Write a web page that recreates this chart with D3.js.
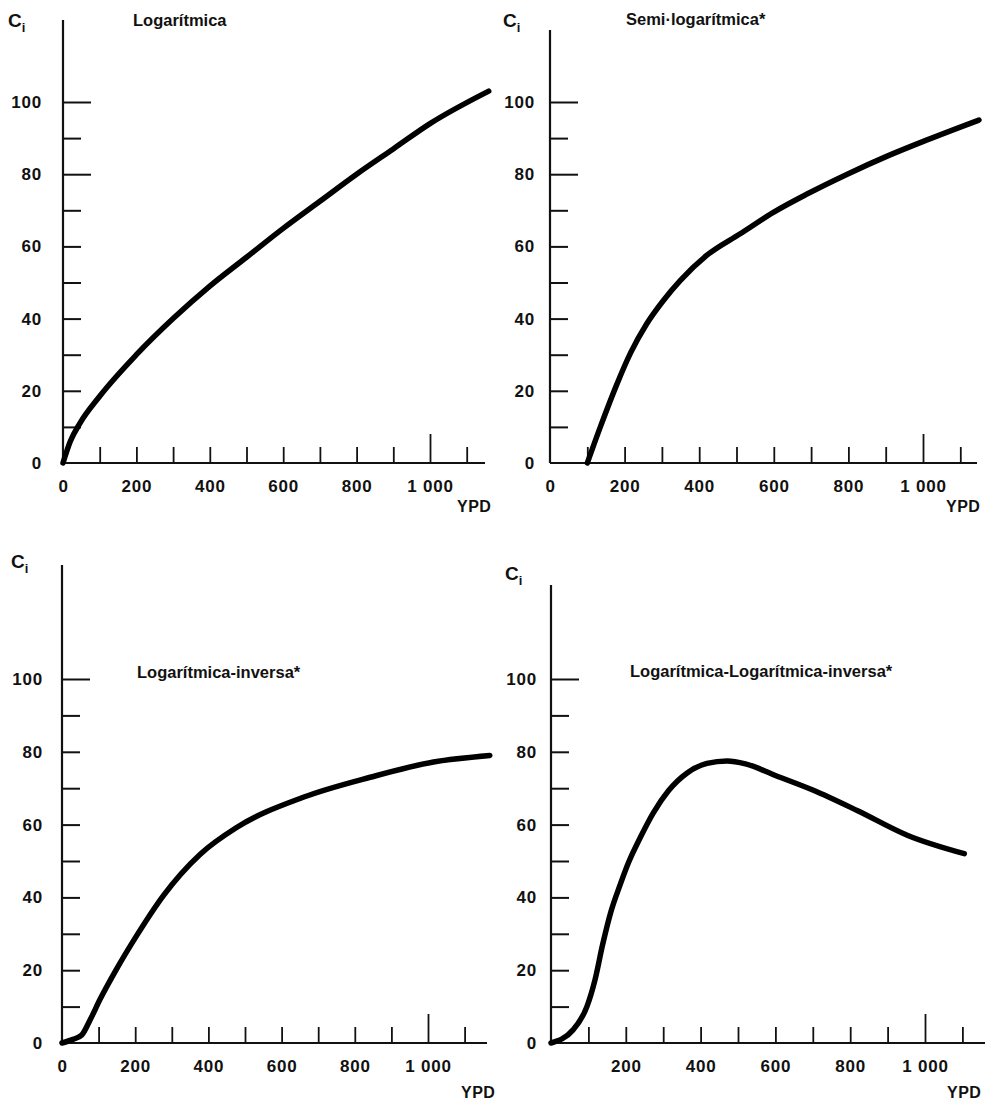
<!DOCTYPE html>
<html>
<head>
<meta charset="utf-8">
<script src="https://cdn.jsdelivr.net/npm/d3@7"></script>
<style>
  body { margin: 0; background: #fff; }
  svg { display: block; font-family: "Liberation Sans", Arial, sans-serif; }
</style>
</head>
<body>
<div id="chart"></div>
<script>
// ===== Data =====
const xTickValues = [100, 200, 300, 400, 500, 600, 700, 800, 900, 1000, 1100];
const xLabelValues = [0, 200, 400, 600, 800, 1000];
const yTickValues = [10, 20, 30, 40, 50, 60, 70, 80, 90, 100];
const yLabelValues = [0, 20, 40, 60, 80, 100];
const xAxisTitle = 'YPD';

const titles = ['Logarítmica', 'Semi·logarítmica*', 'Logarítmica-inversa*', 'Logarítmica-Logarítmica-inversa*'];

const logYpd = [0, 20, 46, 100, 200, 300, 400, 500, 600, 700, 800, 900, 1000, 1160];
const logCi = [0, 6, 11, 18.5, 30, 40, 49, 57, 65, 72.5, 80, 87, 94, 103];

const semiYpd = [100, 135, 180, 216, 259, 304, 349, 420, 510, 600, 689, 797, 904, 1011, 1150];
const semiCi = [0, 10, 22, 30.5, 38.5, 45, 50.5, 57.5, 63.5, 69.5, 74.5, 80, 85, 89.5, 95];

const invYpd = [0, 30, 54, 77, 104, 149, 204, 277, 377, 477, 659, 842, 1015, 1169];
const invCi = [0, 1, 2.2, 6.4, 12, 20.3, 29.5, 40.5, 51.8, 59.2, 67.5, 73, 77.2, 79];

const llYpd = [0, 59, 96, 118, 138, 160, 185, 207, 239, 274, 314, 364, 417, 471, 520, 600, 700, 820, 954, 1105];
const llCi = [0, 3.6, 10, 17.5, 27, 36, 43.5, 49.5, 56.5, 63.3, 69.3, 74.2, 76.8, 77.5, 76.7, 73.5, 69.5, 63.8, 57, 52];

// ===== Panel layout =====
const panels = [
  { title: titles[0], xs: logYpd, ys: logCi, x0: 63, x1000: 430, y0: 463, y100: 102, yTop: 20, xEnd: 485,
    longY: [80, 100], xZero: true, ciX: 8, ciY: 27, titleX: 133, titleY: 26, yLabelRight: 42, ypdX: 457, ypdY: 512 },
  { title: titles[1], xs: semiYpd, ys: semiCi, x0: 550, x1000: 923, y0: 463, y100: 102, yTop: 30, xEnd: 977,
    longY: [80, 100], xZero: true, ciX: 503, ciY: 27, titleX: 626, titleY: 25, yLabelRight: 535, ypdX: 946, ypdY: 512 },
  { title: titles[2], xs: invYpd, ys: invCi, x0: 62, x1000: 428, y0: 1043, y100: 679, yTop: 565, xEnd: 487,
    longY: [100], xZero: true, ciX: 11, ciY: 568, titleX: 137, titleY: 678, yLabelRight: 43, ypdX: 461, ypdY: 1098 },
  { title: titles[3], xs: llYpd, ys: llCi, x0: 551, x1000: 925, y0: 1043, y100: 679, yTop: 585, xEnd: 985,
    longY: [100], xZero: false, ciX: 505, ciY: 580, titleX: 630, titleY: 677, yLabelRight: 537, ypdX: 947, ypdY: 1098 }
];

const svg = d3.select('#chart')
  .append('svg')
  .attr('width', 988)
  .attr('height', 1101);

svg.append('rect').attr('width', 988).attr('height', 1101).attr('fill', '#fff');

const fmt = d => d >= 1000 ? d3.format(',')(d).replace(',', ' ') : String(d);

panels.forEach(p => {
  const x = d3.scaleLinear().domain([0, 1000]).range([p.x0, p.x1000]);
  const y = d3.scaleLinear().domain([0, 100]).range([p.y0, p.y100]);
  const g = svg.append('g');

  // axis lines
  g.append('line')
    .attr('x1', p.x0).attr('x2', p.x0)
    .attr('y1', p.y0).attr('y2', p.yTop)
    .attr('stroke', '#111').attr('stroke-width', 2.2);
  g.append('line')
    .attr('x1', p.x0).attr('x2', p.xEnd)
    .attr('y1', p.y0).attr('y2', p.y0)
    .attr('stroke', '#111').attr('stroke-width', 2);

  // y ticks pointing inward
  const shortY = yTickValues.filter(v => !p.longY.includes(v));
  [[shortY, 18], [p.longY, 28]].forEach(([vals, size]) => {
    g.append('g')
      .attr('transform', `translate(${p.x0},0)`)
      .call(d3.axisRight(y).tickValues(vals).tickSize(size).tickFormat(''))
      .call(a => a.select('.domain').remove())
      .call(a => a.selectAll('.tick line').attr('stroke', '#111').attr('stroke-width', 2));
  });

  // x ticks pointing up
  [[xTickValues.filter(v => v !== 1000), 16], [[1000], 29]].forEach(([vals, size]) => {
    g.append('g')
      .attr('transform', `translate(0,${p.y0})`)
      .call(d3.axisTop(x).tickValues(vals).tickSize(size).tickFormat(''))
      .call(a => a.select('.domain').remove())
      .call(a => a.selectAll('.tick line').attr('stroke', '#111').attr('stroke-width', 1.8));
  });

  // y labels
  g.append('g')
    .attr('transform', `translate(${p.yLabelRight},0)`)
    .call(d3.axisLeft(y).tickValues(yLabelValues).tickSize(0).tickPadding(0))
    .call(a => a.select('.domain').remove())
    .call(a => a.selectAll('text')
      .attr('font-family', '"Liberation Sans", Arial, sans-serif')
      .attr('font-size', 17).attr('font-weight', 'bold')
      .attr('letter-spacing', 0.8).attr('fill', '#111'));

  // x labels
  g.append('g')
    .attr('transform', `translate(0,${p.y0})`)
    .call(d3.axisBottom(x).tickValues(p.xZero ? xLabelValues : xLabelValues.slice(1))
      .tickSize(0).tickPadding(17).tickFormat(fmt))
    .call(a => a.select('.domain').remove())
    .call(a => a.selectAll('text')
      .attr('font-family', '"Liberation Sans", Arial, sans-serif')
      .attr('font-size', 17).attr('font-weight', 'bold')
      .attr('letter-spacing', 0.8).attr('fill', '#111'));

  // axis titles
  const ci = g.append('text')
    .attr('x', p.ciX).attr('y', p.ciY)
    .attr('font-size', 19).attr('font-weight', 'bold').attr('fill', '#111')
    .text('C');
  ci.append('tspan').attr('font-size', 13).attr('dy', 5).text('i');

  g.append('text')
    .attr('x', p.ypdX).attr('y', p.ypdY)
    .attr('font-size', 16).attr('font-weight', 'bold').attr('letter-spacing', 0.5).attr('fill', '#111')
    .text(xAxisTitle);

  g.append('text')
    .attr('x', p.titleX).attr('y', p.titleY)
    .attr('font-size', 16.5).attr('font-weight', 'bold').attr('fill', '#111')
    .text(p.title);

  // curve
  const pts = p.xs.map((v, i) => [v, p.ys[i]]);
  g.append('path')
    .datum(pts)
    .attr('fill', 'none')
    .attr('stroke', '#000')
    .attr('stroke-width', 5.5)
    .attr('stroke-linecap', 'round')
    .attr('stroke-linejoin', 'round')
    .attr('d', d3.line().x(d => x(d[0])).y(d => y(d[1])).curve(d3.curveMonotoneX));
});
</script>
</body>
</html>
